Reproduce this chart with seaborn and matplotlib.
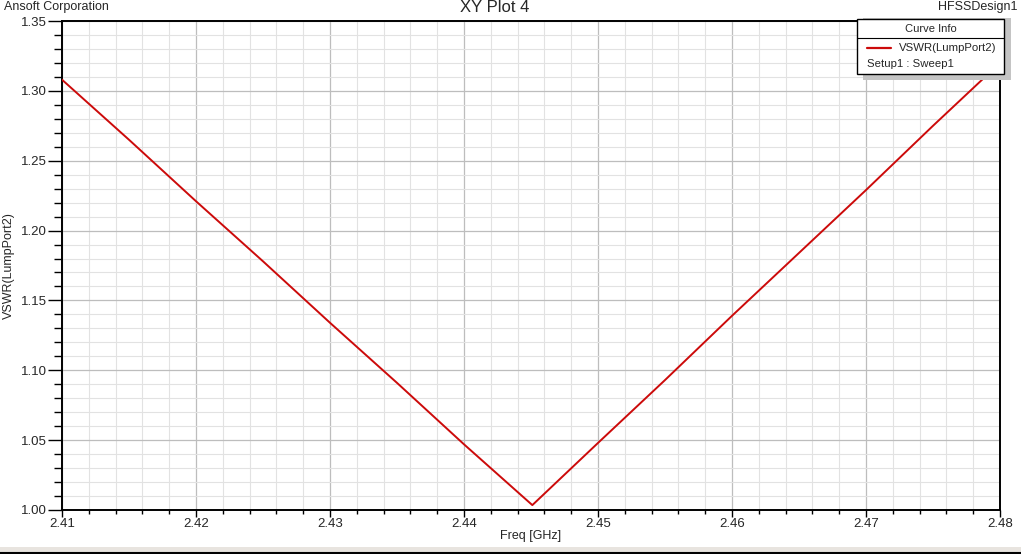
import matplotlib
matplotlib.use('Agg')
import matplotlib.pyplot as plt
import seaborn as sns
import pandas as pd
from matplotlib.patches import Rectangle
from matplotlib.lines import Line2D
from matplotlib.ticker import MultipleLocator, FormatStrFormatter

# values
freq_ghz = [2.410, 2.415, 2.420, 2.425, 2.430, 2.435, 2.440, 2.4451,
            2.450, 2.455, 2.460, 2.465, 2.470, 2.475, 2.480]
vswr = [1.308, 1.265, 1.221, 1.178, 1.134, 1.091, 1.047, 1.0035,
        1.048, 1.093, 1.139, 1.184, 1.229, 1.275, 1.320]
x_ticks = [2.41, 2.42, 2.43, 2.44, 2.45, 2.46, 2.47, 2.48]
y_ticks = [1.00, 1.05, 1.10, 1.15, 1.20, 1.25, 1.30, 1.35]

W, H = 1021, 554

sns.set_theme(style='white')
plt.rcParams['font.family'] = ['Liberation Sans', 'DejaVu Sans']

fig = plt.figure(figsize=(W / 100, H / 100), dpi=100)
ax = fig.add_axes([62 / W, 1 - 510 / H, (1000 - 62) / W, (510 - 21) / H])

df = pd.DataFrame({'Freq [GHz]': freq_ghz, 'VSWR(LumpPort2)': vswr})
sns.lineplot(data=df, x='Freq [GHz]', y='VSWR(LumpPort2)', color='#cc0a0a',
             lw=1.4, ax=ax, legend=False, zorder=3)

ax.set_xlim(2.41, 2.48)
ax.set_ylim(1.00, 1.35)
ax.set_xticks(x_ticks)
ax.set_yticks(y_ticks)
ax.xaxis.set_minor_locator(MultipleLocator(0.002))
ax.yaxis.set_minor_locator(MultipleLocator(0.01))
ax.xaxis.set_major_formatter(FormatStrFormatter('%.2f'))
ax.yaxis.set_major_formatter(FormatStrFormatter('%.2f'))

ax.grid(which='major', color='#bdbdbd', lw=0.9)
ax.grid(which='minor', color='#e2e2e2', lw=0.8)
ax.set_axisbelow(True)
for s in ax.spines.values():
    s.set_color('black')
    s.set_linewidth(1.4)

ax.tick_params(axis='y', which='major', direction='out', length=10, width=1,
               color='black', labelsize=9.5, pad=1, left=True)
ax.tick_params(axis='y', which='minor', direction='out', length=6, width=1,
               color='black', left=True)
ax.tick_params(axis='x', which='major', direction='out', length=5, width=1,
               color='black', labelsize=9.5, pad=1, bottom=True)
ax.tick_params(axis='x', which='minor', direction='out', length=3, width=1,
               color='black', bottom=True)

ax.set_xlabel('Freq [GHz]', fontsize=9, labelpad=0)
ax.set_ylabel('VSWR(LumpPort2)', fontsize=9, labelpad=4)


def fx(px):
    return px / W


def fy(py):
    return 1 - py / H


# header texts along the top edge
fig.text(fx(4), fy(1), 'Ansoft Corporation', fontsize=9, va='top', ha='left')
fig.text(fx(495), fy(0), 'XY Plot 4', fontsize=12, va='top', ha='center')
fig.text(fx(1017), fy(1), 'HFSSDesign1', fontsize=9, va='top', ha='right')

# curve info box with shadow
fig.patches.append(Rectangle((fx(863), fy(80)), fx(148), 62 / H, transform=fig.transFigure,
                             facecolor='#c4c4c4', edgecolor='none', zorder=5))
fig.patches.append(Rectangle((fx(857), fy(74)), fx(147), 55 / H, transform=fig.transFigure,
                             facecolor='white', edgecolor='black', lw=1, zorder=6))
fig.lines.append(Line2D([fx(857), fx(1004)], [fy(38), fy(38)], transform=fig.transFigure,
                        color='black', lw=0.8, zorder=7))
fig.lines.append(Line2D([fx(867), fx(891)], [fy(48), fy(48)], transform=fig.transFigure,
                        color='#cc0a0a', lw=1.6, zorder=7))
fig.text(fx(931), fy(29), 'Curve Info', fontsize=8, ha='center', va='center', zorder=8)
fig.text(fx(899), fy(48), 'VSWR(LumpPort2)', fontsize=8.2, ha='left', va='center', zorder=8)
fig.text(fx(867), fy(64), 'Setup1 : Sweep1', fontsize=8.2, ha='left', va='center', zorder=8)

# window bar at the bottom
fig.patches.append(Rectangle((0, 0), 1, 7 / H, transform=fig.transFigure,
                             facecolor='#e8e4df', edgecolor='none', zorder=1))
fig.lines.append(Line2D([0, 1], [fy(552.5), fy(552.5)], transform=fig.transFigure,
                        color='black', lw=1.5, zorder=2))

fig.savefig('out.png', dpi=100)
